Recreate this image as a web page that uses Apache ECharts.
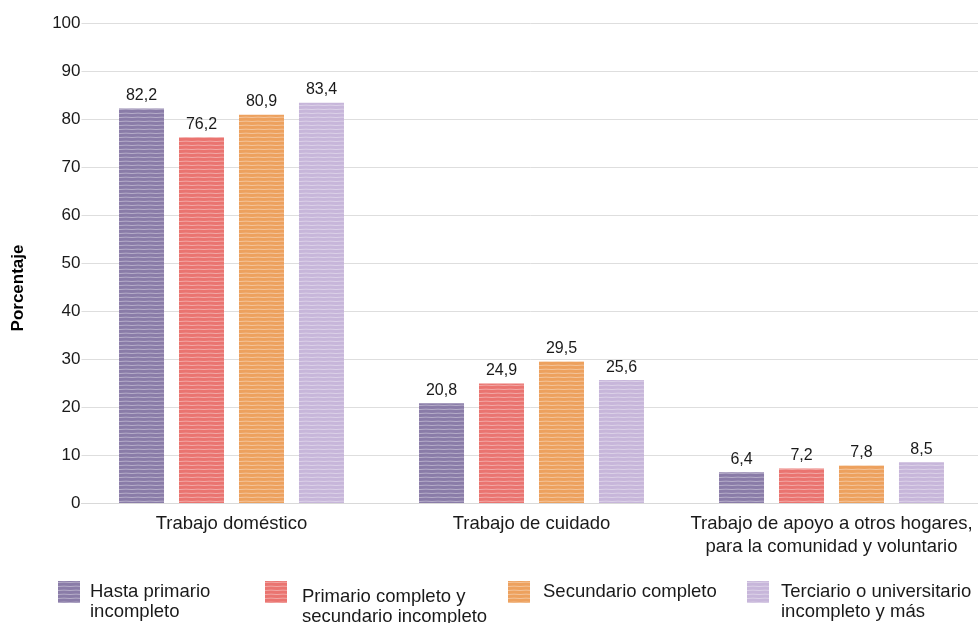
<!DOCTYPE html>
<html>
<head>
<meta charset="utf-8">
<script src="https://cdn.jsdelivr.net/npm/echarts@6/dist/echarts.min.js"></script>
<style>html,body{margin:0;padding:0;background:#fff}#c{width:978px;height:623px}</style>
</head>
<body>
<div id="c"></div>
<script>
const categories = ['Trabajo doméstico', 'Trabajo de cuidado', 'Trabajo de apoyo a otros hogares,\npara la comunidad y voluntario'];
const seriesNames = ['Hasta primario\nincompleto', 'Primario completo y\nsecundario incompleto', 'Secundario completo', 'Terciario o universitario\nincompleto y más'];
const hastaPrimario = [82.2, 20.8, 6.4];
const primarioCompleto = [76.2, 24.9, 7.2];
const secundarioCompleto = [80.9, 29.5, 7.8];
const terciario = [83.4, 25.6, 8.5];
const yTicks = [0, 10, 20, 30, 40, 50, 60, 70, 80, 90, 100];

const baseColors = ['#8a7ca8', '#ea7470', '#eda15e', '#c7b6da'];
function makePattern(base) {
  const c = document.createElement('canvas');
  c.width = 12; c.height = 4;
  const ctx = c.getContext('2d');
  ctx.fillStyle = base; ctx.fillRect(0, 0, 12, 4);
  ctx.strokeStyle = 'rgba(255,255,255,0.38)';
  ctx.lineWidth = 1;
  ctx.beginPath();
  ctx.moveTo(0, 1.5); ctx.quadraticCurveTo(6, 0.8, 12, 1.5);
  ctx.stroke();
  return { image: c, repeat: 'repeat' };
}
const values = [hastaPrimario, primarioCompleto, secundarioCompleto, terciario];
const font = 'Liberation Sans, Arial, sans-serif';

const chart = echarts.init(document.getElementById('c'), null, { renderer: 'canvas' });
const series = seriesNames.map((n, i) => ({
  name: n,
  type: 'bar',
  data: values[i],
  barWidth: 45,
  barGap: '33.3%',
  itemStyle: { color: makePattern(baseColors[i]) },
  label: {
    show: true, position: 'top', distance: 5,
    fontFamily: font, fontSize: 16, color: '#1a1a1a',
    formatter: p => p.value.toFixed(1).replace('.', ',')
  }
}));

function legend(name, left, top, spacer, padLeft) {
  return {
    data: [name], left: left, top: top, padding: 0,
    icon: 'rect', itemWidth: 22, itemHeight: 22,
    formatter: n => spacer ? '{s| }\n' + n : n,
    textStyle: {
      fontFamily: font, fontSize: 18.5, lineHeight: 20, color: '#1a1a1a', padding: [0, 0, 0, padLeft],
      rich: { s: { lineHeight: spacer || 20, fontSize: 10 } }
    }
  };
}

chart.setOption({
  animation: false,
  grid: { left: 81.5, right: -3.5, top: 23, bottom: 120, containLabel: false, outerBoundsMode: 'none' },
  xAxis: {
    type: 'category', data: categories,
    axisLine: { lineStyle: { color: '#d9d9d9', width: 1 } },
    axisTick: { show: false },
    axisLabel: { fontFamily: font, fontSize: 18.5, color: '#1a1a1a', margin: 9, lineHeight: 23, interval: 0 }
  },
  yAxis: {
    type: 'value', min: 0, max: 100, interval: 10,
    axisLine: { show: false }, axisTick: { show: false },
    splitLine: { lineStyle: { color: '#dedede', width: 1 } },
    axisLabel: { fontFamily: font, fontSize: 17, color: '#1a1a1a', margin: 1,
      formatter: v => yTicks.includes(v) ? String(v) : '' }
  },
  legend: [
    legend(seriesNames[0], 58, 562, 20, 5),
    legend(seriesNames[1], 265, 557, 30, 10),
    legend(seriesNames[2], 508, 581, 0, 8),
    legend(seriesNames[3], 747, 562, 20, 7)
  ],
  graphic: [{
    type: 'text', x: 18, y: 288, rotation: Math.PI / 2,
    style: { text: 'Porcentaje', font: 'bold 17px Liberation Sans, Arial, sans-serif', fill: '#000', align: 'center', verticalAlign: 'middle' }
  }],
  series: series
});
</script>
</body>
</html>
